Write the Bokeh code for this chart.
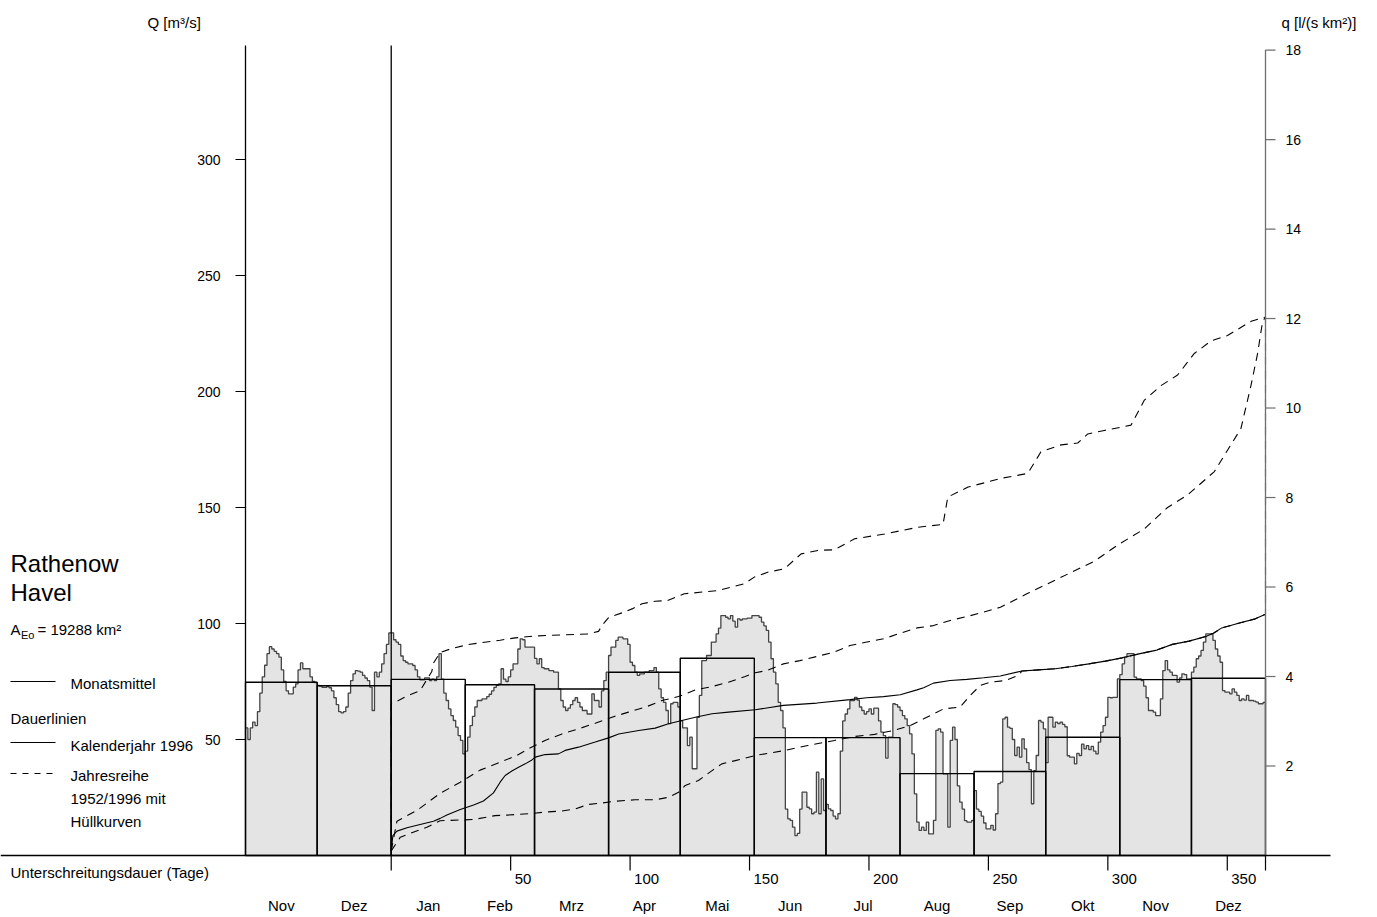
from bokeh.plotting import figure
from bokeh.models import Range1d
from bokeh.core.properties import value
from bokeh.embed import file_html
from bokeh.resources import INLINE

FONT = "Liberation Sans"

# ---------------- data ----------------
# daily discharge Q [m3/s], 1 Nov 1995 .. 31 Dec 1996
nov95 = [55, 50, 55, 57.5, 56, 62, 70, 77, 82, 87, 90, 89, 88, 87, 85.5, 80, 75, 71, 69.7, 69.7,
         72.6, 74, 80, 83, 80.5, 80.5, 80.5, 77, 75, 74.5]
dez95 = [73.3, 73, 72.5, 72.5, 72.8, 72.3, 71, 68, 65, 62, 61.5, 62, 64, 70, 75.4, 78.3, 79.7, 79.5,
         79, 77.6, 76.5, 75.4, 72.6, 62.5, 79, 77, 79, 82.6, 87, 91, 96]
jan96 = [96, 93, 92, 91, 86, 84, 83.3, 82.6, 82.6, 81.9, 80, 77, 75.7, 75.7, 76.6, 76.6, 75.4, 76,
         75.4, 77, 87, 76, 70, 66.8, 63.2, 60.3, 58.2, 55.3, 51.7, 49.6, 43.8]
feb96 = [45, 51, 56, 60, 64, 66.8, 66.8, 67.5, 67.5, 68.5, 69.5, 71, 72.5, 73.3, 74, 80.5, 76, 75,
         77, 80, 82.6, 82.6, 89, 93.4, 93, 89.8, 89.8, 89.8, 89.8]
mar96 = [85, 82.6, 84.8, 81, 80.5, 80.5, 79.7, 79.7, 79, 79, 71.8, 66.8, 64, 62.5, 63.5, 65, 66.8,
         68, 66, 64, 62.5, 62.5, 61, 61, 69.7, 66.8, 66.8, 64, 71, 75.4, 79]
apr96 = [86.2, 89.8, 89.8, 92.7, 94.1, 94.1, 93.4, 93.4, 91, 83.3, 81.9, 79, 77.6, 78.3, 78.3, 79,
         79, 79.7, 79.7, 81, 79, 71.8, 68, 66, 62.5, 56.8, 65.4, 66, 66, 64]
mai96 = [58, 55, 55, 47.4, 51, 37.4, 37.4, 59.6, 69, 84, 84, 86.2, 86.2, 92, 92, 95.5, 98, 103.4,
         103.4, 102.7, 102, 103.4, 101, 98.4, 102, 101.5, 102, 102, 102.3, 102.3, 103.4]
jun96 = [103.4, 103.4, 102.7, 100.6, 99, 97, 92, 84.8, 79, 74, 66, 62.5, 55, 20, 15.8, 15.1, 12.2,
         8.6, 9.5, 20, 27.3, 27.3, 20.8, 20.1, 18, 18.7, 35.9, 18, 33, 19.4]
jul96 = [22, 20.1, 19.4, 17, 15.8, 18, 45, 58, 61, 63.2, 66.8, 66.8, 68.2, 67, 64, 62.5, 61, 62,
         63.2, 61, 63.5, 63.5, 58, 53.2, 51.7, 42, 51, 51, 65.4, 65, 64]
aug96 = [62.5, 60.3, 58.9, 56, 52.4, 43.8, 26.6, 14.4, 10.8, 12.2, 10.8, 14.4, 9.3, 9.3, 15.1, 53.9,
         54.6, 53.2, 35.2, 35.2, 12.2, 49.6, 55.3, 50, 30, 23, 20, 15, 14.4, 14.4, 15.1]
sep96 = [28, 20, 19, 17, 14, 11.5, 11.5, 13, 11, 18, 31, 31.6, 58.9, 59.6, 55.3, 54.8, 50, 43.1,
         46.7, 42.4, 50.3, 46, 40, 37, 22.3, 36.6, 43.1, 58.2, 57.5, 54.6]
okt96 = [40, 59.6, 59.6, 55.3, 57.5, 56.8, 57.5, 56.5, 55.5, 43, 42.4, 42.4, 39.5, 44, 43.1, 48, 46,
         47.4, 45.6, 47, 45, 43.8, 48.9, 53.2, 56, 59.6, 68.2, 68, 68.2, 68.2, 76.1]
nov96 = [78, 82.6, 85.5, 87, 87, 87, 76.9, 76.1, 76.1, 75.4, 73, 68, 62.5, 62.5, 61.8, 60.3, 60.3,
         67.5, 79.7, 84, 80, 79, 77.6, 77.6, 74.7, 76.5, 78.3, 78, 76.1, 76.1]
dez96 = [79, 81.2, 84.8, 86, 88.4, 92, 95.5, 95.5, 95.5, 92.7, 89, 86, 83.3, 71.1, 70.4, 70.4, 69.7,
         71.8, 70.4, 69, 66.8, 67.5, 67, 69, 66.8, 66.8, 66.5, 66.1, 65.4, 65.4, 66]

# months (day 0 = 1 Jan 1996)
month_names = ["Nov", "Dez", "Jan", "Feb", "Mrz", "Apr", "Mai", "Jun", "Jul", "Aug", "Sep",
               "Okt", "Nov", "Dez"]
month_start = [-61, -31, 0, 31, 60, 91, 121, 152, 182, 213, 244, 274, 305, 335]
year_end = 366
month_mean = [74.7, 73.2, 75.9, 73.6, 71.8, 79.0, 85.0, 50.8, 50.8, 35.3, 36.2, 51.0, 75.8, 76.4]

# duration curve, calendar year 1996 (day, Q)
dur96_day = [0, 0.7, 2.4, 6.6, 12.1, 17.7, 20.5, 23.3, 28.9, 34.5, 38.6, 42.8, 45.6, 47.7, 50.5,
             53.3, 56.1, 58.9, 60.3, 64.4, 70, 72.8, 78.4, 85.4, 91, 95.2, 103.6, 110.5, 116.1,
             121.7, 127.3, 134.3, 141.2, 152.4, 157.2, 164.2, 178.2, 192.1, 199.1, 206.1, 213.1,
             220.1, 222.9, 227, 234, 241, 248, 255, 264, 271, 278, 285, 292, 299, 306, 313, 320,
             327, 334, 341, 344.2, 347.7, 354.7, 361.7, 366]
dur96_q = [2, 8.6, 10.5, 12, 13.4, 14.8, 16, 17.5, 19.8, 21.8, 23.5, 27, 31.6, 34.5, 36.4, 38,
           39.5, 41.2, 42.4, 43.5, 43.8, 45.3, 46.7, 48.9, 50.7, 52.4, 53.9, 54.9, 56.8, 58.2,
           59.6, 61.1, 61.8, 62.8, 63.6, 64.7, 65.7, 67.2, 68, 68.5, 69.3, 71.4, 72.3, 74.3, 75.4,
           75.9, 76.6, 77.4, 79.5, 80, 80.5, 81.5, 82.6, 83.8, 85.2, 86.9, 88.4, 91, 92.4, 94.4,
           95.8, 98.1, 100.1, 102, 104]

# duration curves 1952/1996: upper envelope, mean, lower envelope (day, Q)
upper_day = [0, 0, 2.4, 6.6, 12.1, 17, 17.6, 20.5, 24.7, 31.7, 37.3, 45.6, 51.9, 60.3, 71.5,
             82.6, 86.8, 88.2, 91, 96.6, 100.8, 105, 110.5, 115.7, 122.7, 136.6, 147.8, 152,
             157.6, 164.6, 171.6, 178.6, 185.6, 194, 206.6, 220.6, 231, 233, 241.5, 255.5, 266.5,
             272, 280.4, 287.4, 291.6, 298.5, 309.7, 315.3, 322.2, 329.2, 336.2, 343.2, 350.1,
             360, 364.8, 366]
upper_q = [2, 65.4, 66.5, 68.8, 71.1, 79.3, 82.8, 87.5, 89, 90.8, 91.7, 92.8, 93.8, 94.6, 95.1,
           95.5, 96.6, 99.1, 102.5, 104.6, 106.3, 108.5, 109.6, 109.9, 112.8, 114.2, 117.1, 120,
           122.1, 123.6, 130, 131.5, 131.8, 136.5, 138.6, 141.5, 142.7, 154.5, 158.8, 162.6,
           164.7, 174, 177, 177.8, 181.7, 183.2, 185.5, 196.3, 202.5, 207.1, 216.4, 221.8, 224.1,
           230.3, 231.8, 232]
mean_day = [0, 2.4, 10.7, 20.5, 28.9, 37.2, 45.6, 52.6, 57.5, 64.4, 71.5, 78.4, 85.4, 92.4, 99.3,
            106.3, 113.3, 120.3, 127.3, 134.3, 141.2, 148.2, 152.4, 157.2, 164.2, 171.1, 178.2,
            185.2, 192.1, 199.1, 206.1, 213.1, 220.1, 227, 234, 241, 248, 255, 259.2, 266.5,
            280.4, 294.4, 304.1, 315.3, 325, 333.4, 344.6, 350.1, 355.7, 359.9, 362.7, 364.8,
            366]
mean_q = [2, 14.8, 19.4, 26.8, 31.6, 36.8, 40.2, 43.1, 46, 49.6, 52.4, 54.6, 57, 59.6, 61.8, 63.9,
          66.8, 68.5, 71.4, 72.8, 74.7, 77.2, 78.8, 79.7, 82.6, 84, 85.8, 87.6, 90.5, 92, 93.4,
          95.8, 98.1, 99.1, 101.3, 103, 104.9, 107, 109.2, 113, 119.9, 126.9, 133.8, 140.8, 150,
          155.4, 165.5, 174.7, 184, 202.5, 216.4, 230.3, 232]
lower_day = [0, 3.8, 14.9, 20.5, 34.4, 43.5, 48.4, 57.5, 64.4, 71.5, 77, 82.6, 88.2, 93.8, 102.1,
             110.5, 116.1, 120.3, 123.1, 128.6, 134.3, 138.4, 144, 152.4, 164.4, 174.4, 185.6,
             194, 202.4, 210.2, 217.2, 222.9, 231.2, 238.2, 242.4, 246.6, 250.8, 257, 262.6, 264,
             271, 278, 285, 292, 299, 306, 313, 320, 327, 334, 341, 344.2, 347.7, 354.7, 361.7,
             366, 366]
lower_q = [2, 7.9, 12.2, 15, 15.5, 17.2, 17.4, 18, 18.7, 19.2, 20.1, 22, 22.6, 23.4, 24, 24, 25.1,
           27.3, 30.2, 32.3, 36.6, 39.5, 40.9, 43.1, 45.2, 47.4, 49.6, 51.3, 52.2, 53.9, 56, 58.9,
           63.2, 64, 69, 73.3, 74.7, 75.4, 77.6, 79.5, 80, 80.5, 81.5, 82.6, 83.8, 85.2, 86.9,
           88.4, 91, 92.4, 94.4, 95.8, 98.1, 100.1, 102, 104, 232]

area_km2 = 19288
q_ticks = [2, 4, 6, 8, 10, 12, 14, 16, 18]
Q_ticks = [50, 100, 150, 200, 250, 300]
day_ticks = [0, 50, 100, 150, 200, 250, 300, 350, 366]
day_label_pos = [50, 100, 150, 200, 250, 300, 350]
day_labels = ["50", "100", "150", "200", "250", "300", "350"]

# ---------------- layout (page pixels) ----------------
W, H = 1377, 917
FR_L, FR_R, FR_T, FR_B = 245, 1265, 45, 855     # plot area in page pixels
X0, X1 = month_start[0], year_end               # day range of the plot area
Q_TOP = 349.14                                  # Q at top of plot area
PX_DAY = (FR_R - FR_L) / (X1 - X0)
PX_Q = (FR_B - FR_T) / Q_TOP
DASH = "8 6"


def dx(px):
    return X0 + (px - FR_L) / PX_DAY


def dy(py):
    return (FR_B - py) / PX_Q


p = figure(width=W, height=H, x_range=Range1d(dx(0), dx(W)), y_range=Range1d(dy(H), dy(0)),
           output_backend="svg", toolbar_location=None,
           x_axis_location=None, y_axis_location=None,
           min_border_left=0, min_border_right=0, min_border_top=0, min_border_bottom=0)
p.grid.visible = False
p.outline_line_color = None
p.background_fill_color = "white"
p.border_fill_color = "white"
p.extra_y_ranges = {"q": Range1d(dy(H) * 1000 / area_km2, dy(0) * 1000 / area_km2)}

TXT = dict(text_font=value(FONT), text_color="black")

# ---- hydrograph (daily values, steps) ----
daily = nov95 + dez95 + jan96 + feb96 + mar96 + apr96 + mai96 + jun96 + jul96 + aug96 + sep96 \
    + okt96 + nov96 + dez96
days = list(range(month_start[0], month_start[0] + len(daily)))
xs = days + [days[-1] + 1]
ys = daily + [daily[-1]]
p.varea_step(x=xs, y1=[0] * len(xs), y2=ys, step_mode="after", fill_color="#e4e4e4")
p.step(x=xs, y=ys, mode="after", line_color="#444444", line_width=1.3)

# ---- monthly means ----
month_end = month_start[1:] + [year_end]
p.quad(left=month_start, right=month_end, bottom=0, top=month_mean, fill_color=None,
       line_color="black", line_width=1.4)

# ---- duration curves ----
p.line(dur96_day, dur96_q, line_color="black", line_width=1.1)
for dd, qq in ((upper_day, upper_q), (mean_day, mean_q), (lower_day, lower_q)):
    p.line(dd, qq, line_color="black", line_width=1.1, line_dash=DASH)

# ---- axes (drawn through the data scales) ----
# left Q axis, day-0 line
p.segment(x0=[X0, 0], y0=[0, 0], x1=[X0, 0], y1=[Q_TOP, Q_TOP], line_color="black",
          line_width=1.3)
p.segment(x0=[X0] * len(Q_ticks), y0=Q_ticks, x1=[X0 - 10 / PX_DAY] * len(Q_ticks), y1=Q_ticks,
          line_color="black", line_width=1.2)
p.text(x=[X0 - 25 / PX_DAY] * len(Q_ticks), y=Q_ticks, text=[str(t) for t in Q_ticks],
       text_align="right", text_baseline="middle", text_font_size=value("14px"), **TXT)
# right q axis
p.segment(x0=[X1], y0=[0], x1=[X1], y1=[q_ticks[-1]], y_range_name="q", line_color="#6e6e6e",
          line_width=1.3)
p.segment(x0=[X1] * len(q_ticks), y0=q_ticks, x1=[X1 + 10 / PX_DAY] * len(q_ticks), y1=q_ticks,
          y_range_name="q", line_color="#6e6e6e", line_width=1.2)
p.text(x=[X1 + 20 / PX_DAY] * len(q_ticks), y=q_ticks, text=[str(t) for t in q_ticks],
       y_range_name="q", text_align="left", text_baseline="middle",
       text_font_size=value("14px"), **TXT)
# bottom axis
p.segment(x0=[dx(0)], y0=[0], x1=[dx(1330)], y1=[0], line_color="black", line_width=1.3)
p.segment(x0=day_ticks, y0=[0] * len(day_ticks), x1=day_ticks,
          y1=[-15 / PX_Q] * len(day_ticks), line_color="black", line_width=1.2)
p.text(x=day_label_pos, y=[dy(878)] * len(day_label_pos), text=day_labels, x_offset=4,
       text_align="left", text_baseline="middle", text_font_size=value("15px"), **TXT)
month_mid = [(a + b) / 2 for a, b in zip(month_start, month_end)]
p.text(x=month_mid, y=[dy(905)] * len(month_mid), text=month_names, text_align="center",
       text_baseline="middle", text_font_size=value("15px"), **TXT)


# ---- titles, station text, legend ----
def label(px, py, text, size="15px", align="left", baseline="middle"):
    p.text(x=[dx(px)], y=[dy(py)], text=[text], text_align=align, text_baseline=baseline,
           text_font_size=value(size), **TXT)


label(147, 22, "Q [m³/s]")
label(1281, 22, "q [l/(s km²)]")
label(10, 563, "Rathenow", size="24px", baseline="alphabetic")
label(10, 592, "Havel", size="24px", baseline="alphabetic")
label(10, 629, "A", baseline="alphabetic")
label(20.5, 634, "Eo", size="11px", baseline="alphabetic")
label(37, 629, "= 19288 km²", baseline="alphabetic")
label(70, 683, "Monatsmittel")
label(10, 718, "Dauerlinien")
label(70, 745, "Kalenderjahr 1996")
label(70, 775, "Jahresreihe")
label(70, 798, "1952/1996 mit")
label(70, 821, "Hüllkurven")
label(10, 872, "Unterschreitungsdauer (Tage)")

# legend line samples
p.segment(x0=[dx(10), dx(10)], y0=[dy(681), dy(742)], x1=[dx(55), dx(55)],
          y1=[dy(681), dy(742)], line_color="black", line_width=1.1)
p.segment(x0=[dx(10)], y0=[dy(773)], x1=[dx(55)], y1=[dy(773)], line_color="black",
          line_width=1.1, line_dash="6 6")

open("out.html", "w").write(file_html(p, INLINE))
